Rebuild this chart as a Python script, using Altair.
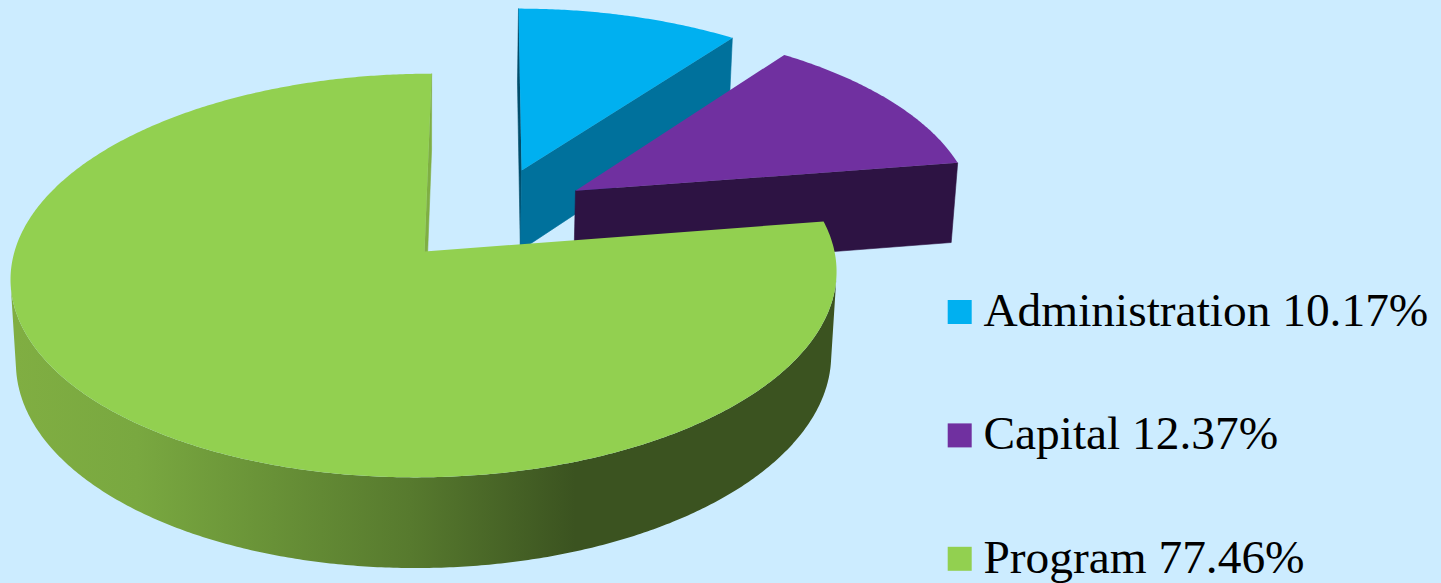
import math
import altair as alt

# Budget split, in percent, clockwise from twelve o'clock
series = ["Administration", "Capital", "Program"]
shares = [10.17, 12.37, 77.46]
top_colors = ["#00B0F0", "#7030A0", "#92D050"]
cut_colors = ["#00719C", "#2D1343", "#7FAF43"]
sliver_color = "#004E6C"
background = "#CCECFF"

# Outer wall shading of the large slice: page x -> colour
wall_stops = [(15, "#80AE42"), (137, "#79A840"), (410, "#577A2E"), (575, "#3B5320")]

# Camera that maps a unit-radius pie (X right, Y far, Z depth of the slab) to the page
CX, CY = 424.5, 251.5
A, B, DEPTH_Y, THICK = 410.0, 8.0, 199.0, 84.0
W_FAR, W_DOWN = 0.119, 0.013

# Exploded offset of each slice in pie units
explode = [(0.2404, 0.428), (0.376, 0.3165), (0.0, 0.0)]


def project(x, y, z=0.0):
    d = 1 + W_FAR * y + W_DOWN * z
    return [CX + (A * x + B * y) / d, CY + (-DEPTH_Y * y + THICK * z) / d]


def rim(angle, offset, z=0.0):
    t = math.radians(angle)
    return project(math.sin(t) + offset[0], math.cos(t) + offset[1], z)


def feature(points, fill, name):
    ring = points + [points[0]]
    return {
        "type": "Feature",
        "geometry": {"type": "Polygon", "coordinates": [ring]},
        "properties": {"fill": fill, "series": name},
    }


def arc_angles(start, end, step=0.5):
    n = max(2, int(abs(end - start) / step))
    return [start + (end - start) * i / n for i in range(n + 1)]


def top_face(i, start, end):
    off = explode[i]
    pts = [project(off[0], off[1])] + [rim(a, off) for a in arc_angles(start, end)]
    return feature(pts, top_colors[i], series[i])


def cut_face(i, angle, fill):
    off = explode[i]
    return feature(
        [project(off[0], off[1]), rim(angle, off), rim(angle, off, 1.0), project(off[0], off[1], 1.0)],
        fill,
        series[i],
    )


def faces_viewer(angle, offset, step=0.25):
    # A wall segment is visible when its page-space quad winds the same way as the front of the pie
    p, q = rim(angle - step, offset), rim(angle + step, offset)
    r = rim(angle, offset, 1.0)
    mid = rim(angle, offset)
    return (q[0] - p[0]) * (r[1] - mid[1]) - (q[1] - p[1]) * (r[0] - mid[0]) < 0


# Slice boundaries derived from the shares
bounds = [0.0]
for s in shares:
    bounds.append(bounds[-1] + s * 3.6)

# Front wall of the large slice: one outline between the two silhouette angles
wall_angles = [a for a in arc_angles(bounds[2], bounds[3]) if faces_viewer(a, explode[2])]
wall_outline = [rim(a, explode[2]) for a in wall_angles] + [rim(a, explode[2], 1.0) for a in reversed(wall_angles)]
wall_feature = feature(wall_outline, "", series[2])
wall_xs = [p[0] for p in wall_outline]
wall_left, wall_right = min(wall_xs), max(wall_xs)
wall_gradient = alt.Gradient(
    gradient="linear",
    x1=0,
    x2=1,
    y1=0,
    y2=0,
    stops=[
        alt.GradientStop(offset=max(0.0, (x - wall_left) / (wall_right - wall_left)), color=c)
        for x, c in wall_stops
    ],
)

identity = dict(type="identity", scale=1, translate=[0, 0])


def shaded(features):
    return (
        alt.Chart(alt.Data(values=features))
        .mark_geoshape(strokeWidth=0.6)
        .encode(
            fill=alt.Fill("properties.fill:N", scale=None, legend=None),
            stroke=alt.Stroke("properties.fill:N", scale=None, legend=None),
        )
        .project(**identity)
    )


wall_layer = (
    alt.Chart(alt.Data(values=[wall_feature]))
    .mark_geoshape(fill=wall_gradient, stroke=None, strokeWidth=0)
    .project(**identity)
)

legend_labels = [f"{n} {v:.2f}%" for n, v in zip(series, shares)]
color_scale = alt.Scale(domain=series, range=top_colors)
legend = alt.Legend(
    orient="none",
    legendX=936,
    legendY=288.3,
    title=None,
    symbolType="square",
    symbolSize=576,
    symbolStrokeWidth=0,
    symbolOpacity=1,
    labelFont="Liberation Serif",
    labelFontSize=47.4,
    labelColor="#000000",
    labelLimit=600,
    labelOffset=0,
    rowPadding=74.4,
    labelExpr="{'Administration': '%s', 'Capital': '%s', 'Program': '%s'}[datum.label]" % tuple(legend_labels),
)


def top(feature_item):
    return (
        alt.Chart(alt.Data(values=[feature_item]))
        .mark_geoshape(strokeWidth=0)
        .encode(color=alt.Color("properties.series:N", scale=color_scale, legend=legend))
        .project(**identity)
    )


chart = (
    alt.layer(
        shaded([cut_face(0, bounds[0], sliver_color), cut_face(0, bounds[1], cut_colors[0])]),
        top(top_face(0, bounds[0], bounds[1])),
        shaded([cut_face(1, bounds[2], cut_colors[1])]),
        top(top_face(1, bounds[1], bounds[2])),
        wall_layer,
        shaded([cut_face(2, bounds[3], cut_colors[2])]),
        top(top_face(2, bounds[2], bounds[3])),
    )
    .properties(
        width=1441,
        height=583,
        padding=0,
        background=background,
        autosize=alt.AutoSizeParams(type="none"),
    )
    .configure_view(stroke=None)
)

chart.save("out.html", embed_options={"renderer": "svg", "actions": False})
